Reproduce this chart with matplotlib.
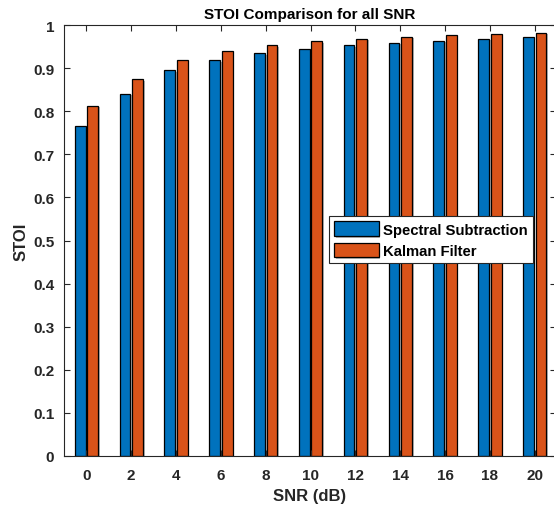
import matplotlib.pyplot as plt
import matplotlib.patheffects as pe
import numpy as np

plt.rcParams['font.family'] = ['Liberation Sans', 'DejaVu Sans']
plt.rcParams['font.weight'] = 'bold'

snr = [0, 2, 4, 6, 8, 10, 12, 14, 16, 18, 20]
stoi_ss = [0.765, 0.841, 0.895, 0.919, 0.934, 0.945, 0.953, 0.959, 0.964, 0.968, 0.971]  # spectral subtraction
stoi_kf = [0.813, 0.875, 0.919, 0.940, 0.953, 0.962, 0.968, 0.973, 0.977, 0.980, 0.982]  # kalman filter

blue = '#0072BD'
orange = '#D95319'
dark = '#262626'

fig = plt.figure(figsize=(5.54, 5.10), dpi=100)
ax = fig.add_axes([64/554, 1-457/510, (556-64)/554, (457-26)/510])

x = np.array(snr)
w = 0.48
shadow = [pe.SimplePatchShadow(offset=(1.2, -1.2), shadow_rgbFace='#9a9a9a', alpha=0.7), pe.Normal()]
b1 = ax.bar(x-0.28, stoi_ss, w, color=blue, edgecolor='black', linewidth=0.9)
b2 = ax.bar(x+0.28, stoi_kf, w, color=orange, edgecolor='black', linewidth=0.9)
for p in list(b1) + list(b2):
    p.set_path_effects(shadow)

ax.set_xlim(-1.0, 20.95)
ax.set_ylim(0, 1)
ax.set_xticks(snr)
ax.set_yticks(np.arange(0, 1.01, 0.1))
ax.set_yticklabels(['0', '0.1', '0.2', '0.3', '0.4', '0.5', '0.6', '0.7', '0.8', '0.9', '1'])

ax.tick_params(direction='in', length=4, width=0.8, colors=dark, labelsize=11,
               top=True, right=True)
ax.tick_params(axis='x', pad=9)
ax.tick_params(axis='y', pad=7)
for lab in ax.get_xticklabels() + ax.get_yticklabels():
    lab.set_fontweight('bold')
for s in ax.spines.values():
    s.set_color(dark)
    s.set_linewidth(0.8)

ax.set_title('STOI Comparison for all SNR', fontsize=11, fontweight='bold', pad=5)
ax.set_xlabel('SNR (dB)', fontsize=12, fontweight='bold', color=dark, labelpad=4)
ax.set_ylabel('STOI', fontsize=12, fontweight='bold', color=dark, labelpad=3)

leg = ax.legend((b1, b2), ('Spectral Subtraction', 'Kalman Filter'),
                loc='upper left', bbox_to_anchor=(329/554, 1-217/510),
                bbox_transform=fig.transFigure, fontsize=10.7,
                handlelength=3.0, handleheight=1.15, handletextpad=0.3,
                borderpad=0.35, labelspacing=0.4, borderaxespad=0,
                fancybox=False, framealpha=1, edgecolor=dark)
leg.get_frame().set_linewidth(0.8)
for t in leg.get_texts():
    t.set_fontweight('bold')

plt.savefig('out.png', dpi=100)
